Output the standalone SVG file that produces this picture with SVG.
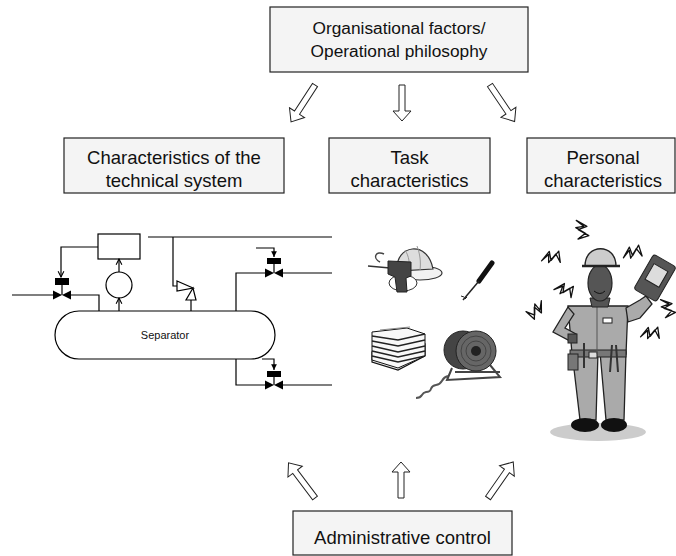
<svg xmlns="http://www.w3.org/2000/svg" width="676" height="556" viewBox="0 0 676 556">
<style>
.box{fill:#f4f4f4;stroke:#222;stroke-width:1.2}
.t{font-family:"Liberation Sans",Arial,sans-serif;font-size:18.5px;fill:#111;text-anchor:middle}
.t17{font-size:17.3px}
.blk{fill:#fff;stroke:#222;stroke-width:1}
.ln{fill:none;stroke:#000;stroke-width:1.2}
.bolt{fill:#fff;stroke:#111;stroke-width:1.3;stroke-linejoin:round}
</style>
<defs>
<marker id="vo" viewBox="0 0 10 10" refX="9" refY="5" markerWidth="6" markerHeight="6" orient="auto"><path d="M1,1 L9,5 L1,9" fill="none" stroke="#000" stroke-width="1.5"/></marker>
<marker id="vf" viewBox="0 0 10 10" refX="9" refY="5" markerWidth="6" markerHeight="6" orient="auto"><path d="M1,1 L9,5 L1,9 Z" fill="#000"/></marker>
<path id="bolt" d="M-9,-8 L3,-6 L-4,0 L8,2 L-1,9 L4,1 L-7,-1 L0,-5 Z"/>
</defs>

<g id="node-org">
<rect class="box" x="270" y="7" width="258" height="65"/>
<text class="t t17" x="399" y="34">Organisational factors/</text>
<text class="t t17" x="399" y="57">Operational philosophy</text>
</g>
<g id="node-tech">
<rect class="box" x="64" y="138" width="220" height="55"/>
<text class="t" x="174" y="164">Characteristics of the</text>
<text class="t" x="174" y="187">technical system</text>
</g>
<g id="node-task">
<rect class="box" x="329" y="138" width="161" height="55"/>
<text class="t" x="409.5" y="164">Task</text>
<text class="t" x="409.5" y="187">characteristics</text>
</g>
<g id="node-personal">
<rect class="box" x="527" y="138" width="148" height="55"/>
<text class="t" x="603" y="164">Personal</text>
<text class="t" x="603" y="187">characteristics</text>
</g>
<g id="node-admin">
<rect class="box" x="293" y="511" width="219" height="44"/>
<text class="t" x="402.5" y="544">Administrative control</text>
</g>

<g id="connectors">
<path class="blk" transform="translate(315,85) rotate(33)" d="M-3,0 L3,0 L3,33 L9,33 L0,44 L-9,33 L-3,33 Z"/>
<path class="blk" transform="translate(402,85)" d="M-3,0 L3,0 L3,26 L9,26 L0,36 L-9,26 L-3,26 Z"/>
<path class="blk" transform="translate(490,85) rotate(-34)" d="M-3,0 L3,0 L3,33 L9,33 L0,44 L-9,33 L-3,33 Z"/>
<path class="blk" transform="translate(315,498) rotate(-37)" d="M-3,0 L3,0 L3,-33 L9,-33 L0,-44 L-9,-33 L-3,-33 Z"/>
<path class="blk" transform="translate(401,498)" d="M-3,0 L3,0 L3,-26 L9,-26 L0,-36 L-9,-26 L-3,-26 Z"/>
<path class="blk" transform="translate(488,498) rotate(35)" d="M-3,0 L3,0 L3,-33 L9,-33 L0,-44 L-9,-33 L-3,-33 Z"/>
</g>

<g id="process-scheme">
<rect x="55" y="311" width="220" height="48" rx="24" fill="#fff" stroke="#000" stroke-width="1.2"/>
<text x="165" y="339" font-family="Liberation Sans,Arial,sans-serif" font-size="11" text-anchor="middle" fill="#111">Separator</text>
<path class="ln" d="M12,295 H53 M71,295 H99 V311"/>
<path d="M53,290.5 L62,295 L53,299.5 Z M71,290.5 L62,295 L71,299.5 Z" fill="#000"/>
<line x1="62" y1="285" x2="62" y2="295" stroke="#000" stroke-width="1.2"/>
<rect x="55" y="278" width="14" height="7" fill="#000"/>
<path class="ln" d="M98,247 H61 V277" marker-end="url(#vo)"/>
<rect x="98" y="234" width="42" height="25" fill="#fff" stroke="#000" stroke-width="1.2"/>
<circle cx="119" cy="285" r="13" fill="#fff" stroke="#000" stroke-width="1.2"/>
<path class="ln" d="M119,311 V298" marker-end="url(#vo)"/>
<path class="ln" d="M119,272 V259" marker-end="url(#vo)"/>
<path class="ln" d="M191,311 V300"/>
<path d="M186,300 L196,300 L193,288 Z" fill="#fff" stroke="#000" stroke-width="1.2"/>
<path d="M177,281 L193,288 L177,291 Z" fill="#fff" stroke="#000" stroke-width="1.2"/>
<path class="ln" d="M177,286 H173 V237 M148,237 H332"/>
<path class="ln" d="M236,311 V273 H265 M283,273 H332"/>
<path d="M265,268.5 L274,273 L265,277.5 Z M283,268.5 L274,273 L283,277.5 Z" fill="#000"/>
<line x1="274" y1="264" x2="274" y2="273" stroke="#000" stroke-width="1.2"/>
<rect x="267" y="258" width="14" height="6" fill="#000"/>
<path class="ln" d="M256,248 H274 V257" marker-end="url(#vf)"/>
<path class="ln" d="M236,359 V385 H265 M283,385 H332"/>
<path d="M265,380.5 L274,385 L265,389.5 Z M283,380.5 L274,385 L283,389.5 Z" fill="#000"/>
<line x1="274" y1="377" x2="274" y2="385" stroke="#000" stroke-width="1.2"/>
<rect x="267" y="371" width="14" height="6" fill="#000"/>
<path class="ln" d="M262,359 H274 V370" marker-end="url(#vf)"/>
</g>

<g id="task-clipart">
<path d="M384,254 C376,250 372,258 380,262" fill="none" stroke="#444" stroke-width="1.5"/>
<ellipse cx="420" cy="273" rx="22" ry="7" fill="#f2f2f2" stroke="#333" stroke-width="1.2"/>
<path d="M397,271 C395,244 428,240 433,269 Z" fill="#ddd" stroke="#333" stroke-width="1.2"/>
<path d="M405,250 C409,256 410,264 409,270 M417,246 C420,254 421,262 420,270" fill="none" stroke="#999" stroke-width="1"/>
<ellipse cx="403" cy="283" rx="14" ry="8" fill="#fff" stroke="#333"/>
<line x1="368" y1="266" x2="390" y2="268" stroke="#333" stroke-width="1.5"/>
<path d="M388,261 L411,262 L411,276 L406,278 L407,292 L397,292 L395,277 L388,274 Z" fill="#444" stroke="#222"/>
<line x1="492" y1="263" x2="479" y2="281" stroke="#111" stroke-width="5" stroke-linecap="round"/>
<line x1="479" y1="281" x2="463" y2="300" stroke="#222" stroke-width="1.5"/>
<path d="M461,296 l3,1 M465,299 l2,-2" stroke="#222"/>
<path d="M372,352 L372,362 L398,370 L425,356 L425,344 Z" fill="#eee" stroke="#111" stroke-width="1.2"/>
<path d="M372,332 L407,328 L425,334 L425,356 L398,368 L372,360 Z" fill="#f8f8f8" stroke="#111" stroke-width="1"/>
<path d="M372,336 L398,340 L425,334 M372,341 L398,346 L425,340 M372,346 L398,352 L425,346 M372,351 L398,357 L425,351 M372,356 L398,362 L425,356" fill="none" stroke="#222" stroke-width="1.6"/>
<path d="M380,330 L410,327" stroke="#888"/>
<path d="M452,368 L447,380 L500,377 L490,365 M455,372 L500,372" fill="none" stroke="#444" stroke-width="2"/>
<circle cx="463" cy="350" r="19" fill="#444" stroke="#222"/>
<circle cx="476" cy="351" r="20" fill="#666" stroke="#222"/>
<circle cx="476" cy="351" r="15" fill="none" stroke="#444"/>
<circle cx="476" cy="351" r="10" fill="none" stroke="#444"/>
<circle cx="476" cy="351" r="5" fill="#222"/>
<path d="M448,376 C440,378 444,384 436,385 C428,386 434,392 426,392 C420,393 424,398 416,398" fill="none" stroke="#555" stroke-width="2"/>
</g>

<g id="personal-clipart">
<ellipse cx="598" cy="432" rx="48" ry="9" fill="#ccc"/>
<path d="M572,352 L598,352 L596,420 L580,420 Z" fill="#aaa" stroke="#222" stroke-width="1.3"/>
<path d="M600,352 L626,352 L624,420 L606,420 Z" fill="#aaa" stroke="#222" stroke-width="1.3"/>
<ellipse cx="585" cy="425" rx="14" ry="7" fill="#111"/>
<ellipse cx="614" cy="425" rx="13" ry="7" fill="#111"/>
<path d="M568,306 L628,306 L626,354 L572,354 Z" fill="#aaa" stroke="#222" stroke-width="1.3"/>
<path d="M568,307 L553,332 L572,342 L576,334 L565,328 L574,314 Z" fill="#aaa" stroke="#222" stroke-width="1.3"/>
<path d="M626,308 L640,300 L646,296 L652,304 L640,318 L628,322 Z" fill="#aaa" stroke="#222" stroke-width="1.3"/>
<rect x="568" y="334" width="9" height="9" fill="#555" stroke="#222"/>
<rect x="570" y="350" width="56" height="7" fill="#777" stroke="#222"/>
<rect x="568" y="354" width="10" height="16" fill="#777" stroke="#222"/>
<path d="M584,343 L584,368 M612,345 L610,372 M616,345 L618,372" stroke="#333" stroke-width="2"/>
<rect x="589" y="352" width="8" height="6" fill="#ddd" stroke="#222"/>
<rect x="603" y="318" width="9" height="5" fill="#fff" stroke="#222"/>
<path d="M597,306 L597,354" stroke="#555"/>
<path d="M590,298 L610,298 L608,307 L592,307 Z" fill="#555" stroke="#222"/>
<ellipse cx="600" cy="283" rx="12" ry="18" fill="#555" stroke="#222" stroke-width="1.2"/>
<path d="M594,291 Q600,296 605,291" fill="none" stroke="#111"/>
<path d="M585,266 C585,243 616,243 616,266 Z" fill="#ccc" stroke="#222" stroke-width="1.3"/>
<path d="M582,266 L620,266" stroke="#222" stroke-width="2.5"/>
<g transform="translate(655,278) rotate(30)">
<rect x="-13" y="-20" width="26" height="40" rx="3" fill="#555" stroke="#222"/>
<rect x="-8" y="-12" width="16" height="18" fill="#ddd" stroke="#222"/>
</g>
<use href="#bolt" class="bolt" transform="translate(582,231) rotate(20)"/>
<use href="#bolt" class="bolt" transform="translate(553,257) rotate(-60)"/>
<use href="#bolt" class="bolt" transform="translate(566,290) rotate(-40)"/>
<use href="#bolt" class="bolt" transform="translate(535,311) rotate(80)"/>
<use href="#bolt" class="bolt" transform="translate(634,252) rotate(-70)"/>
<use href="#bolt" class="bolt" transform="translate(668,309) rotate(10)"/>
<use href="#bolt" class="bolt" transform="translate(652,333) rotate(-60)"/>
</g>
</svg>
